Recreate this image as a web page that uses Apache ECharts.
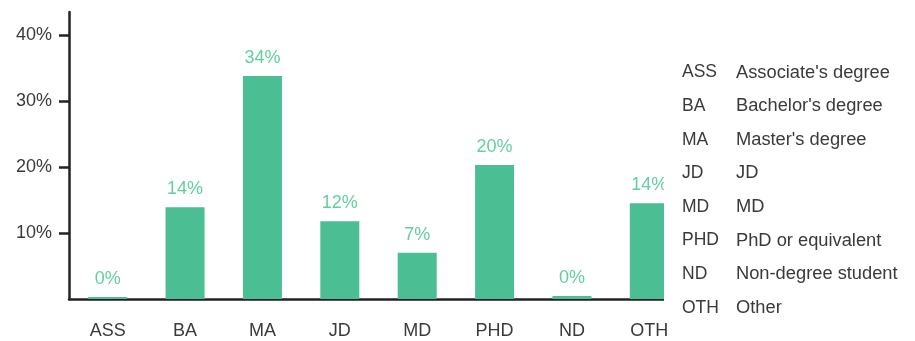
<!DOCTYPE html>
<html><head><meta charset="utf-8">
<script src="https://cdn.jsdelivr.net/npm/echarts@6/dist/echarts.min.js"></script>
<style>html,body{margin:0;padding:0;background:#fff}#c{width:915px;height:341px}</style>
</head><body><div id="c"></div>
<script>
const categories = ['ASS','BA','MA','JD','MD','PHD','ND','OTH'];
const values = [0.3, 13.9, 33.8, 11.8, 7.0, 20.3, 0.45, 14.5];
const valueLabels = ['0%','14%','34%','12%','7%','20%','0%','14%'];
const yTicks = [10, 20, 30, 40];
const legendAbbr = ['ASS','BA','MA','JD','MD','PHD','ND','OTH'];
const legendNames = ["Associate's degree","Bachelor's degree","Master's degree",'JD','MD','PhD or equivalent','Non-degree student','Other'];

const FONT = '"Liberation Sans", Arial, sans-serif';
const TXT = '#3a3a3a';
const FS = 18;
const chart = echarts.init(document.getElementById('c'), null, {renderer:'canvas'});
const legendGraphics = [];
legendAbbr.forEach((a,i)=>{
  legendGraphics.push({type:'text', x:682, y:72.5 + i*33.6, z:200,
    style:{text:a, fill:TXT, font:'17.5px '+FONT, textVerticalAlign:'middle', verticalAlign:'middle'}});
  legendGraphics.push({type:'text', x:736, y:72.5 + i*33.6, z:200,
    style:{text:legendNames[i], fill:TXT, font:'18.3px '+FONT, textVerticalAlign:'middle', verticalAlign:'middle'}});
});
chart.setOption({
  animation:false,
  grid:{left:69, top:12, right:227, bottom:42, containLabel:false},
  xAxis:{type:'category', data:categories, boundaryGap:true,
    axisLine:{lineStyle:{color:'#222', width:2.5}},
    axisTick:{alignWithLabel:true, length:10, lineStyle:{color:'#222', width:2.5}},
    axisLabel:{color:TXT, fontFamily:FONT, fontSize:FS, margin:23}},
  yAxis:{type:'value', min:0, max:43.5,
    splitLine:{show:false},
    axisLine:{show:true, lineStyle:{color:'#222', width:2.5}},
    axisTick:{show:true, length:10, customValues:yTicks, lineStyle:{color:'#222', width:2.5}},
    axisLabel:{customValues:yTicks, formatter:'{value}%', color:TXT, fontFamily:FONT, fontSize:FS, margin:17}},
  series:[{type:'bar', data:values, barWidth:39, itemStyle:{color:'#4bbf93'},
    label:{show:true, position:'top', distance:9, color:'#62cf9f', fontFamily:FONT, fontSize:FS,
      formatter:p=>valueLabels[p.dataIndex]}}],
  graphic:[{type:'rect', left:664, top:0, z:100, shape:{width:30, height:303}, style:{fill:'#fff'}}].concat(legendGraphics)
});
</script></body></html>
